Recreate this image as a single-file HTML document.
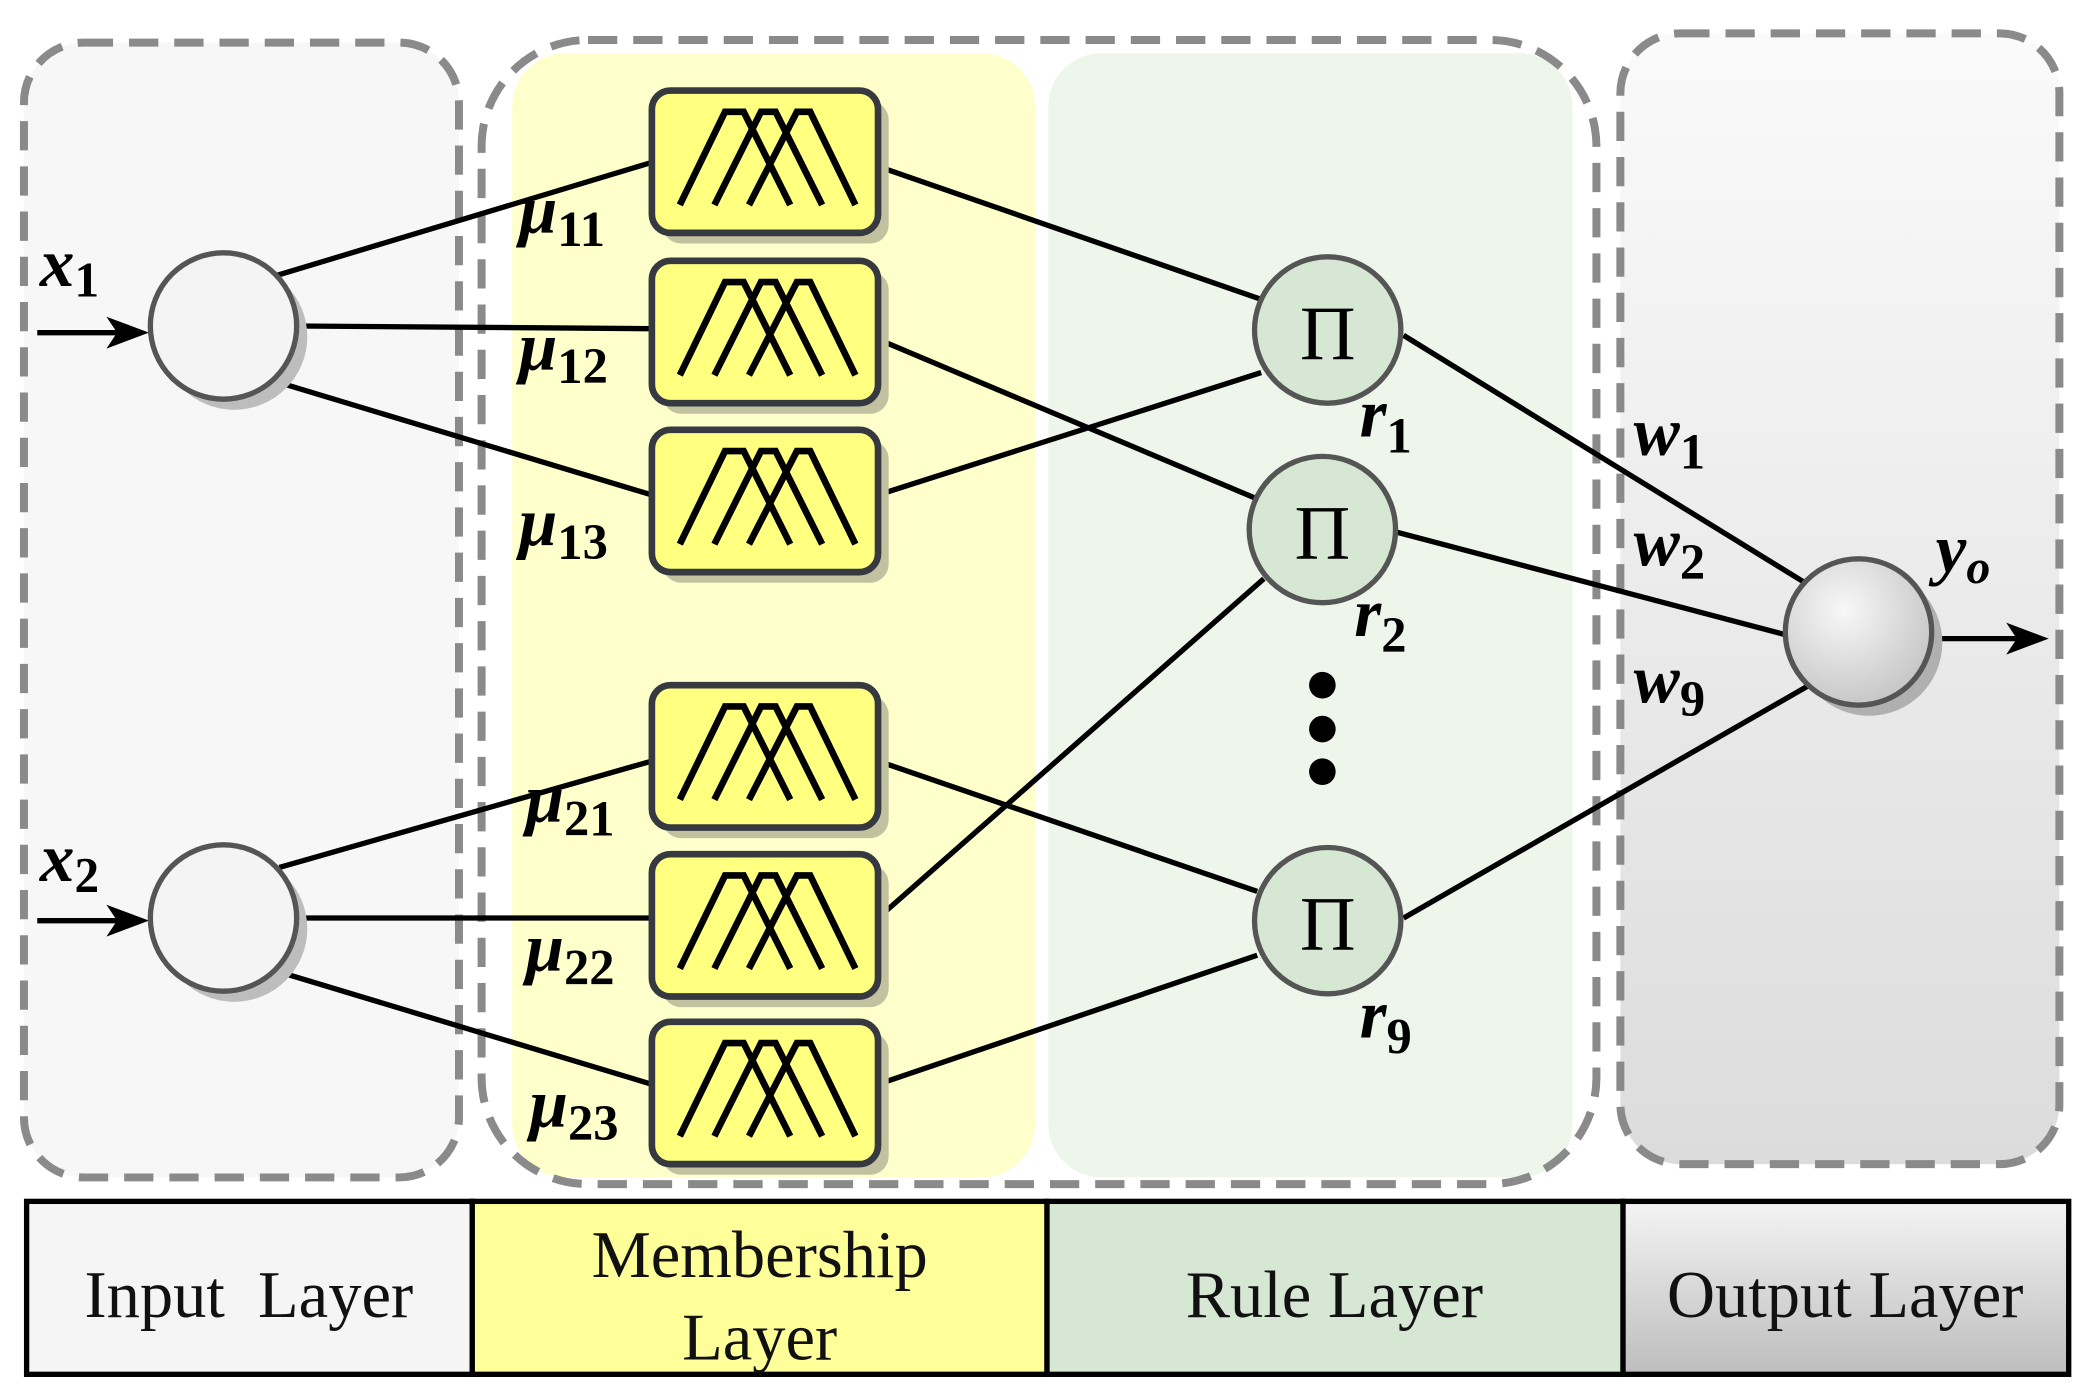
<!DOCTYPE html>
<html><head><style>html,body{margin:0;padding:0;background:#fff}svg{display:block}</style></head><body>
<svg width="2086" height="1397" viewBox="0 0 1568 1050" xmlns="http://www.w3.org/2000/svg" font-family="Liberation Serif, serif">
<defs>
<linearGradient id="og" x1="0" y1="0" x2="0" y2="1"><stop offset="0" stop-color="#fafafa"/><stop offset="1" stop-color="#dcdcdc"/></linearGradient>
<linearGradient id="lg" x1="0" y1="0" x2="0" y2="1"><stop offset="0" stop-color="#f4f4f4"/><stop offset="1" stop-color="#bdbdbd"/></linearGradient>
<radialGradient id="oc" cx="0.4" cy="0.35" r="0.7"><stop offset="0" stop-color="#f8f8f8"/><stop offset="1" stop-color="#c4c4c4"/></radialGradient>
<g id="mf">
<rect x="8" y="8" width="170" height="107" rx="14" fill="#c2c1a0"/>
<rect x="0" y="0" width="170" height="107" rx="14" fill="#ffff80" stroke="#363a40" stroke-width="5"/>
<g fill="none" stroke="#000" stroke-width="5">
<polyline points="21,86 55,16 69,16 104,86"/>
<polyline points="47,86 82,16 93,16 128,86"/>
<polyline points="73,86 109,16 119,16 153,86"/>
</g></g>
</defs>
<rect x="18" y="32" width="327" height="853" rx="45" fill="#f7f7f7"/>
<rect x="1218" y="25" width="330" height="850" rx="45" fill="url(#og)"/>
<rect x="385" y="40" width="393" height="845" rx="40" fill="#ffffcc"/>
<rect x="788" y="40" width="394" height="845" rx="40" fill="#eef5ea"/>
<g fill="none" stroke="#8a8a8a" stroke-width="6" stroke-dasharray="22 12">
<rect x="18" y="32" width="327" height="853" rx="45"/>
<rect x="362" y="30" width="838" height="860" rx="80"/>
<rect x="1218" y="25" width="330" height="850" rx="45"/>
</g>
<g stroke="#000" stroke-width="4" fill="none">
<line x1="208" y1="207" x2="490" y2="122"/><line x1="223" y1="245" x2="490" y2="247"/><line x1="208" y1="287" x2="490" y2="372"/>
<line x1="210" y1="652" x2="490" y2="572"/><line x1="225" y1="690" x2="490" y2="690"/><line x1="208" y1="730" x2="490" y2="815"/>
<line x1="660" y1="125" x2="948" y2="225"/><line x1="660" y1="255" x2="945" y2="375"/><line x1="660" y1="372" x2="948" y2="280"/>
<line x1="660" y1="572" x2="945" y2="670"/><line x1="660" y1="690" x2="950" y2="435"/><line x1="660" y1="815" x2="945" y2="718"/>
<line x1="1055" y1="252" x2="1360" y2="440"/><line x1="1050" y1="400" x2="1342" y2="477"/><line x1="1055" y1="690" x2="1360" y2="515"/>
<line x1="28" y1="250" x2="95" y2="250"/><line x1="28" y1="692" x2="95" y2="692"/><line x1="1455" y1="480" x2="1520" y2="480"/>
</g>
<g fill="#000"><polygon points="112,250 80,238 88,250 80,262"/><polygon points="112,692 80,680 88,692 80,704"/><polygon points="1540,480 1508,468 1516,480 1508,492"/></g>
<use href="#mf" x="490" y="68"/><use href="#mf" x="490" y="196"/><use href="#mf" x="490" y="323"/>
<use href="#mf" x="490" y="515"/><use href="#mf" x="490" y="642"/><use href="#mf" x="490" y="768"/>
<g stroke="#555" stroke-width="4">
<circle cx="176" cy="253" r="55" fill="#bdbdbd" stroke="none"/><circle cx="168" cy="245" r="55" fill="#f4f4f4"/>
<circle cx="176" cy="698" r="55" fill="#bdbdbd" stroke="none"/><circle cx="168" cy="690" r="55" fill="#f4f4f4"/>
<circle cx="1405" cy="483" r="55" fill="#b0b0b0" stroke="none"/><circle cx="1397" cy="475" r="55" fill="url(#oc)"/>
<circle cx="998" cy="248" r="55" fill="#d6e8d4"/><circle cx="994" cy="398" r="55" fill="#d6e8d4"/><circle cx="998" cy="692" r="55" fill="#d6e8d4"/>
</g>
<g font-size="58" text-anchor="middle"><text x="998" y="270">Π</text><text x="994" y="420">Π</text><text x="998" y="714">Π</text></g>
<circle cx="994" cy="515" r="10"/><circle cx="994" cy="548" r="10"/><circle cx="994" cy="580" r="10"/>
<g font-style="italic" font-weight="bold" font-size="52">
<text x="30" y="215">x<tspan font-size="37" font-style="normal" dy="8">1</tspan></text>
<text x="30" y="662">x<tspan font-size="37" font-style="normal" dy="8">2</tspan></text>
<text x="390" y="175">μ<tspan font-size="38" font-style="normal" dy="10">11</tspan></text>
<text x="390" y="278">μ<tspan font-size="38" font-style="normal" dy="10">12</tspan></text>
<text x="390" y="410">μ<tspan font-size="38" font-style="normal" dy="10">13</tspan></text>
<text x="395" y="618">μ<tspan font-size="38" font-style="normal" dy="10">21</tspan></text>
<text x="395" y="730">μ<tspan font-size="38" font-style="normal" dy="10">22</tspan></text>
<text x="398" y="847">μ<tspan font-size="38" font-style="normal" dy="10">23</tspan></text>
<text x="1022" y="328">r<tspan font-size="38" font-style="normal" dy="12">1</tspan></text>
<text x="1018" y="478">r<tspan font-size="38" font-style="normal" dy="12">2</tspan></text>
<text x="1022" y="780">r<tspan font-size="38" font-style="normal" dy="12">9</tspan></text>
<text x="1228" y="342">w<tspan font-size="38" font-style="normal" dy="10">1</tspan></text>
<text x="1228" y="425">w<tspan font-size="38" font-style="normal" dy="10">2</tspan></text>
<text x="1228" y="528">w<tspan font-size="38" font-style="normal" dy="10">9</tspan></text>
<text x="1455" y="430">y<tspan font-size="36" dy="8">o</tspan></text>
</g>
<g stroke="#000" stroke-width="4">
<rect x="20" y="903" width="335" height="130" fill="#f5f5f5"/>
<rect x="355" y="903" width="432" height="130" fill="#ffff99"/>
<rect x="787" y="903" width="433" height="130" fill="#d6e8d4"/>
<rect x="1220" y="903" width="335" height="130" fill="url(#lg)"/>
</g>
<g font-size="50" text-anchor="middle" fill="#111">
<text x="187" y="990" style="white-space:pre">Input  Layer</text>
<text x="571" y="960">Membership</text><text x="571" y="1022">Layer</text>
<text x="1003" y="990">Rule Layer</text>
<text x="1387" y="990">Output Layer</text>
</g>
</svg>
</body></html>
